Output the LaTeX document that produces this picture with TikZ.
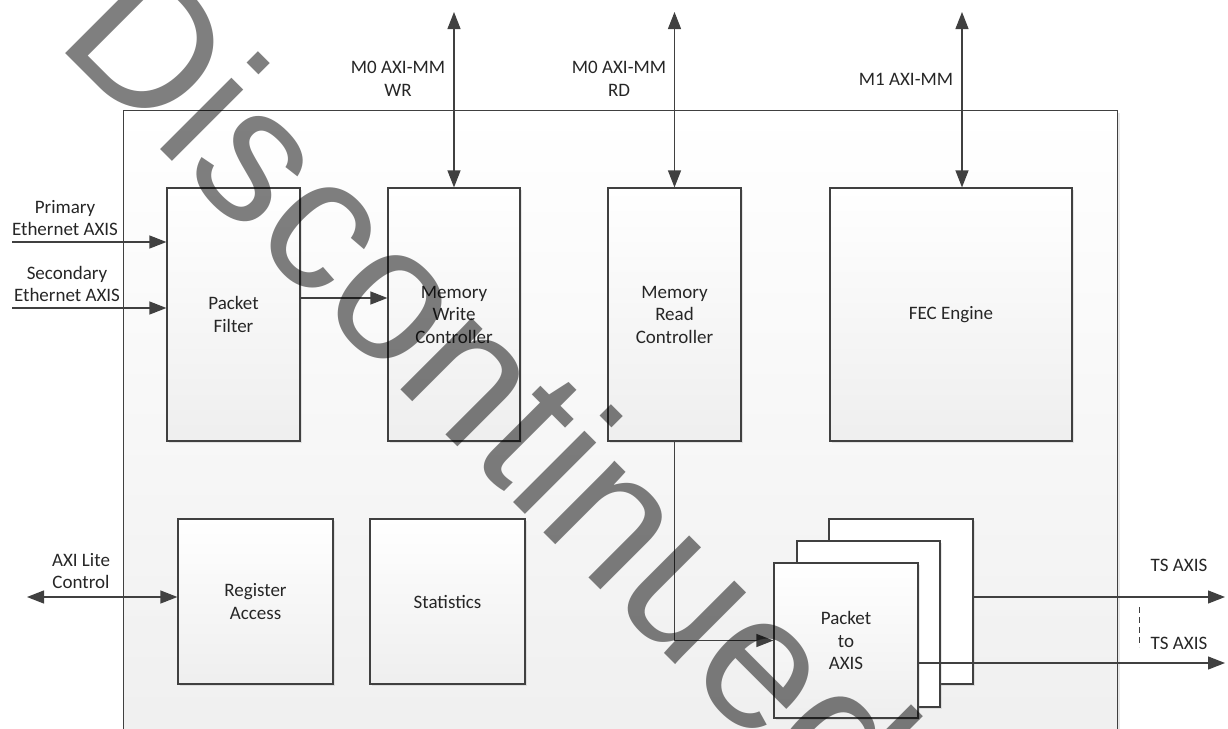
\documentclass[tikz,border=0pt]{standalone}
\usepackage{fontspec}
\setmainfont{Carlito}
\newfontfamily\wmfont{Liberation Sans}
\usepackage{tikz}
\usetikzlibrary{positioning,arrows.meta,calc,shadows}

\definecolor{edge}{HTML}{404040}
\definecolor{ink}{HTML}{262626}

\begin{document}
\begin{tikzpicture}[x=1pt, y=-1pt,
  every node/.style={font=\fontsize{19}{22.5}\selectfont, text=ink, align=center},
  block/.style={rectangle, draw=edge, line width=1.2pt, inner sep=0pt,
    top color=white, bottom color=gray!13,
    drop shadow={shadow xshift=2pt, shadow yshift=-2pt, opacity=0.18}},
  card/.style={block, top color=white, bottom color=white},
  link/.style={draw=edge, line width=1.2pt, -{Triangle[length=17pt,width=13pt]}},
  both/.style={draw=edge, line width=1.2pt,
    {Triangle[length=17pt,width=13pt]}-{Triangle[length=17pt,width=13pt]}},
  watermark/.style={font=\wmfont\fontsize{191}{191}\selectfont, text=black,
    text opacity=0.5, rotate=-45, inner sep=0pt}]

  \useasboundingbox (0,0) rectangle (1228,728);
  \clip (0,0) rectangle (1228,728);

  % Core
  \node[block, anchor=north west, minimum width=994pt, minimum height=670pt] (core) at (123,110) {};

  % Blocs du haut
  \node[block, minimum width=133pt, minimum height=253pt] (pf)  at (233.5,314.5) {Packet\\Filter};
  \node[block, minimum width=132pt, minimum height=253pt] (mwc) at (454,314.5) {Memory\\Write\\Controller};
  \node[block, minimum width=133pt, minimum height=253pt] (mrc) at (674.5,314.5) {Memory\\Read\\Controller};
  \node[block, minimum width=242pt, minimum height=253pt] (fec) at (951,314.5) {FEC Engine};

  % Blocs du bas
  \node[block, minimum width=155pt, minimum height=165pt] (reg)  at (255.5,601.5) {Register\\Access};
  \node[block, minimum width=155pt, minimum height=165pt] (stat) at (447.5,601.5) {Statistics};

  % Packet to AXIS (pile)
  \node[card, minimum width=144pt, minimum height=165pt] (p2c) at (901,601.5) {};
  \node[card, minimum width=143pt, minimum height=166pt] (p2b) at (868.5,624) {};
  \node[block, minimum width=144pt, minimum height=155pt] (p2a) at (846,640.5) {Packet\\to\\AXIS};

  % Entrees
  \coordinate (inprim) at (12,242);
  \coordinate (insec)  at (12,308);
  \coordinate (axil)   at (27,597);
  \node (lprim) at (65,218) {Primary\\Ethernet AXIS};
  \node (lsec)  at (67,284) {Secondary\\Ethernet AXIS};
  \node (laxil) at (81,571) {AXI Lite\\Control};
  \draw[link] (inprim) -- (inprim -| pf.west);
  \draw[link] (insec) -- (insec -| pf.west);
  \draw[both] (axil) -- (axil -| reg.west);

  % Memoire
  \coordinate (mmwr) at (454,12);
  \coordinate (mmrd) at (674.5,12);
  \coordinate (mm1)  at (962,12);
  \node (lmmwr) at (398,79) {M0 AXI-MM\\WR};
  \node (lmmrd) at (619,79) {M0 AXI-MM\\RD};
  \node (lmm1)  at (906,79) {M1 AXI-MM};
  \draw[both] (mmwr) -- (mwc.north);
  \draw[both] (mmrd) -- (mrc.north);
  \draw[both] (mm1) -- (mm1 |- fec.north);

  % Connexions internes
  \draw[link] ([yshift=16.5pt]pf.east) -- ([yshift=16.5pt]mwc.west);
  \draw[link] (mrc.south) |- (p2a.west);

  % Sorties
  \coordinate (tsa) at (1225,597);
  \coordinate (tsb) at (1225,663);
  \node (ltsa) at (1179,565) {TS AXIS};
  \node (ltsb) at (1179,643) {TS AXIS};
  \draw[link] (tsa -| p2c.east) -- (tsa);
  \draw[link] (tsb -| p2a.east) -- (tsb);
  \draw[draw=edge, line width=0.8pt, dash pattern=on 6pt off 4pt] (1139,607) -- (1139,647);

  % Filigrane
  \node[watermark] (wm) at (493,385) {Discontinued};
\end{tikzpicture}
\end{document}
